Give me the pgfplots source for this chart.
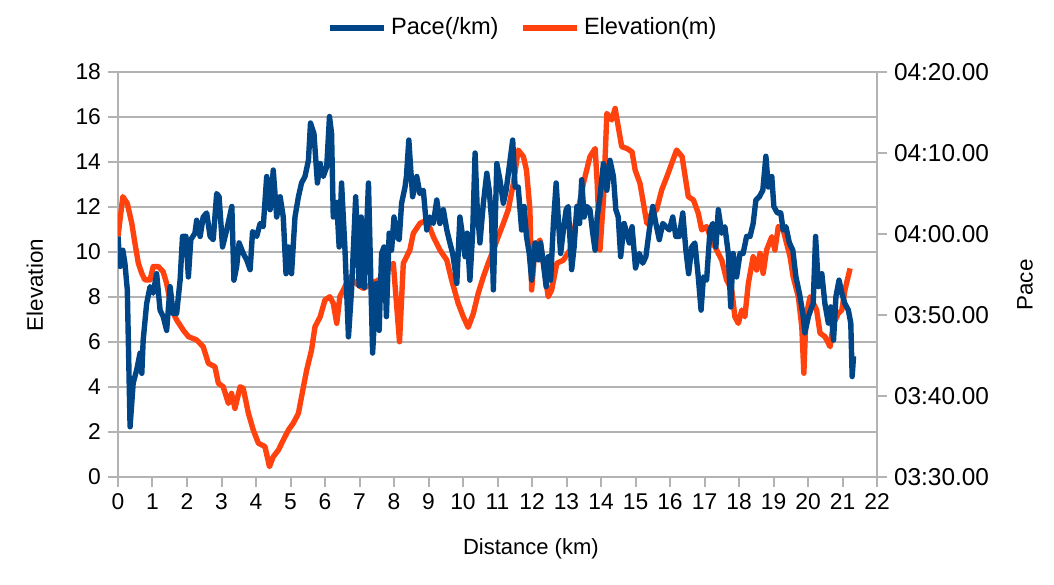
\documentclass[border=0pt]{standalone}
\usepackage{fontspec}
\setmainfont{Liberation Sans}
\usepackage{pgfplots}
\pgfplotsset{compat=1.18}
\definecolor{paceblue}{HTML}{004586}
\definecolor{eleorange}{HTML}{FF420E}
\definecolor{gridc}{HTML}{B3B3B3}
\begin{document}
\begin{tikzpicture}
\pgfplotsset{
  common/.style={
    scale only axis, width=379.5pt, height=202.5pt,
    xmin=0, xmax=22,
    /pgf/number format/assume math mode=true,
    tick label style={font=\fontsize{11.4}{13}\selectfont, text=black},
    axis line style={draw=gridc, line width=1pt},
    tick style={draw=gridc, line width=1pt},
    major tick length=5pt, tick align=outside,
  },
}
\begin{axis}[common,
  ymin=0, ymax=18,
  xtick={0,1,...,22}, ytick={0,2,...,18},
  axis x line*=bottom, axis y line*=left,
  ymajorgrids, grid style={draw=gridc, line width=0.9pt},
  xlabel={Distance (km)}, ylabel={Elevation},
  every axis x label/.style={at={(axis description cs:0.544,-0.178)}, anchor=center, font=\fontsize{11}{13}\selectfont},
  every axis y label/.style={at={(axis description cs:-0.1094,0.474)}, anchor=center, rotate=90, font=\fontsize{11.2}{13}\selectfont},
  legend style={draw=none, fill=none, at={(axis description cs:0.535,1.109)}, anchor=center,
    font=\fontsize{11.8}{13}\selectfont, legend columns=2,
    /tikz/every even column/.append style={column sep=9pt}},
  legend cell align=left,
  legend image code/.code={\draw[#1] (0pt,0pt) -- (27pt,0pt);},
]
\addlegendimage{paceblue, line width=2.7pt}
\addlegendentry{Pace(/km)}
\addplot[eleorange, line width=2.7pt, line join=round] table {
x y
0 10.7
0.14 12.46
0.27 12.16
0.4 11.27
0.49 10.4
0.59 9.5
0.69 9.05
0.78 8.76
0.93 8.76
1.02 9.35
1.17 9.35
1.31 9.12
1.41 8.6
1.56 7.42
1.7 6.98
1.89 6.53
2.04 6.24
2.28 6.09
2.47 5.79
2.62 5.05
2.81 4.9
2.91 4.16
3.05 4.01
3.2 3.27
3.29 3.72
3.39 3.05
3.54 4.01
3.63 3.94
3.78 2.83
3.92 2.09
4.07 1.5
4.26 1.35
4.39 0.46
4.5 0.9
4.65 1.2
4.79 1.64
4.94 2.09
5.08 2.39
5.23 2.83
5.32 3.57
5.47 4.76
5.61 5.64
5.71 6.68
5.86 7.12
6.0 7.87
6.14 8.01
6.24 7.72
6.34 6.83
6.43 8.01
6.53 8.31
6.72 8.9
6.9 8.6
7.11 8.38
7.6 8.8
7.98 9.5
8.16 6.01
8.27 9.5
8.46 10.09
8.56 10.83
8.75 11.27
8.95 11.42
9.14 10.68
9.33 10.09
9.53 9.64
9.67 8.76
9.86 7.72
10.01 7.12
10.15 6.65
10.3 7.27
10.44 8.16
10.59 8.9
10.73 9.5
10.88 10.09
11.02 10.68
11.17 11.27
11.31 11.87
11.46 13.05
11.6 14.53
11.75 14.24
11.84 13.64
11.94 11.87
11.99 8.31
12.09 10.24
12.23 10.53
12.33 9.5
12.47 8.01
12.57 8.31
12.72 9.5
12.91 9.64
13.1 10.09
13.3 11.57
13.49 13.05
13.68 14.24
13.83 14.6
13.89 13.05
13.97 10.09
14.07 12.31
14.17 16.16
14.31 15.87
14.41 16.38
14.5 15.57
14.6 14.68
14.75 14.6
14.9 14.45
14.99 13.64
15.13 13.05
15.23 12.16
15.33 11.27
15.47 11.72
15.61 11.87
15.76 12.76
15.91 13.35
16.05 13.94
16.19 14.53
16.35 14.24
16.44 13.35
16.53 12.46
16.68 12.31
16.82 11.72
16.92 10.98
17.06 11.13
17.21 10.53
17.35 10.09
17.5 9.64
17.64 8.76
17.79 8.31
17.88 7.12
17.98 6.83
18.08 7.42
18.17 7.12
18.27 8.6
18.41 9.79
18.51 9.2
18.61 9.94
18.7 9.05
18.8 10.09
18.95 10.68
19.04 10.09
19.14 11.13
19.28 10.98
19.38 10.39
19.48 9.79
19.57 8.9
19.72 8.01
19.82 6.68
19.88 4.61
19.94 7.12
20.06 8.01
20.25 7.42
20.35 6.39
20.49 6.24
20.64 5.79
20.74 6.83
20.88 7.27
20.98 7.42
21.07 8.31
21.22 9.27
};
\addlegendentry{Elevation(m)}
\end{axis}
\begin{axis}[common,
  ymin=210, ymax=260,
  axis x line=none, axis y line*=right,
  ytick={210,220,230,240,250,260},
  yticklabels={03:30.00,03:40.00,03:50.00,04:00.00,04:10.00,04:20.00},
  yticklabel style={font=\fontsize{12.2}{13}\selectfont},
  ylabel={Pace},
  every axis y label/.style={at={(axis description cs:1.195,0.474)}, anchor=center, rotate=90, font=\fontsize{11.2}{13}\selectfont},
]
\addplot[paceblue, line width=2.7pt, line join=round] table {
x y
0 239.7
0.06 236.0
0.14 238.0
0.2 236.4
0.27 233.1
0.35 216.2
0.44 221.6
0.54 223.2
0.64 225.3
0.69 222.8
0.73 226.9
0.83 231.4
0.93 233.5
1.02 232.7
1.12 235.1
1.22 230.6
1.31 229.8
1.41 228.1
1.51 233.5
1.6 230.2
1.7 230.2
1.8 234.3
1.87 239.7
1.97 239.7
2.04 234.7
2.11 239.3
2.23 240.1
2.28 241.7
2.38 239.7
2.47 242.1
2.57 242.6
2.67 239.7
2.76 239.3
2.86 245.0
2.93 244.6
3.03 238.4
3.15 240.5
3.3 243.4
3.36 234.3
3.44 236.0
3.51 238.9
3.63 237.6
3.73 236.8
3.83 235.6
3.9 240.3
4.02 239.7
4.12 241.3
4.21 240.9
4.31 247.1
4.41 243.0
4.5 247.9
4.6 242.1
4.7 244.6
4.79 242.1
4.87 235.1
4.94 238.4
5.03 235.1
5.13 242.1
5.23 244.6
5.32 246.3
5.42 247.1
5.52 249.1
5.58 253.7
5.68 252.4
5.78 246.3
5.86 248.7
5.95 247.1
6.05 248.3
6.13 254.5
6.19 252.4
6.24 242.1
6.34 243.9
6.41 238.4
6.48 246.3
6.58 238.0
6.68 227.3
6.77 233.1
6.89 244.6
6.99 233.6
7.05 242.1
7.14 233.4
7.26 246.3
7.38 225.3
7.49 233.9
7.57 228.1
7.64 237.6
7.71 238.4
7.78 229.8
7.86 240.1
7.93 238.0
8.0 242.1
8.08 239.7
8.15 239.3
8.22 243.8
8.32 245.8
8.36 247.1
8.43 251.6
8.48 248.3
8.54 244.6
8.66 247.1
8.75 245.0
8.85 245.4
8.95 240.5
9.04 242.1
9.14 241.3
9.24 244.2
9.33 241.3
9.43 243.0
9.53 240.5
9.62 238.9
9.7 237.6
9.77 235.6
9.82 233.9
9.91 242.1
9.99 239.7
10.06 237.2
10.12 240.1
10.2 234.3
10.28 240.1
10.35 250.0
10.41 243.4
10.49 238.9
10.59 243.8
10.69 247.5
10.76 245.4
10.83 241.7
10.88 233.1
10.98 248.7
11.07 246.7
11.17 243.8
11.25 245.4
11.34 248.3
11.44 251.6
11.51 245.8
11.6 245.8
11.7 240.5
11.77 243.4
11.84 239.7
11.92 237.6
11.99 234.3
12.09 238.9
12.19 236.8
12.25 238.9
12.33 236.4
12.41 233.5
12.47 237.2
12.54 234.3
12.62 241.3
12.7 246.3
12.77 241.3
12.83 237.6
12.91 240.5
12.99 243.0
13.05 243.4
13.15 235.6
13.22 238.4
13.3 243.4
13.38 241.3
13.44 246.7
13.51 242.1
13.59 243.4
13.68 243.0
13.76 240.1
13.83 238.0
13.89 242.1
13.97 244.6
14.07 248.7
14.17 245.4
14.26 249.1
14.36 247.1
14.43 243.0
14.5 242.1
14.57 237.2
14.67 241.3
14.75 240.1
14.82 238.9
14.9 240.9
15.0 235.8
15.11 237.6
15.21 236.4
15.3 237.2
15.4 240.5
15.5 243.4
15.59 241.3
15.69 239.3
15.79 241.3
15.88 240.9
15.98 240.5
16.08 242.1
16.17 239.7
16.27 239.7
16.37 242.6
16.46 238.0
16.54 235.1
16.63 238.4
16.72 238.9
16.82 234.7
16.9 230.6
16.97 234.7
17.06 234.3
17.16 240.5
17.24 241.3
17.33 238.4
17.4 243.0
17.5 240.1
17.59 240.9
17.69 237.6
17.76 231.0
17.83 237.6
17.93 234.7
18.03 237.6
18.12 237.6
18.22 239.7
18.32 239.7
18.41 241.3
18.49 244.2
18.59 244.6
18.69 245.4
18.78 249.6
18.85 245.8
18.95 247.1
19.01 243.4
19.11 242.6
19.21 242.6
19.28 240.5
19.36 240.9
19.46 238.9
19.56 238.0
19.65 234.7
19.75 232.7
19.85 230.2
19.91 227.8
20.01 229.8
20.11 231.0
20.15 231.4
20.22 239.7
20.3 233.5
20.4 235.1
20.49 231.4
20.59 229.0
20.66 231.0
20.74 226.9
20.81 232.3
20.9 234.3
20.98 232.7
21.07 231.4
21.17 230.6
21.24 229.0
21.28 222.4
21.32 224.9
};
\end{axis}
\pgfresetboundingbox
\path[use as bounding box] (-59pt,-53.5pt) rectangle (468pt,238.5pt);
\end{tikzpicture}
\end{document}
